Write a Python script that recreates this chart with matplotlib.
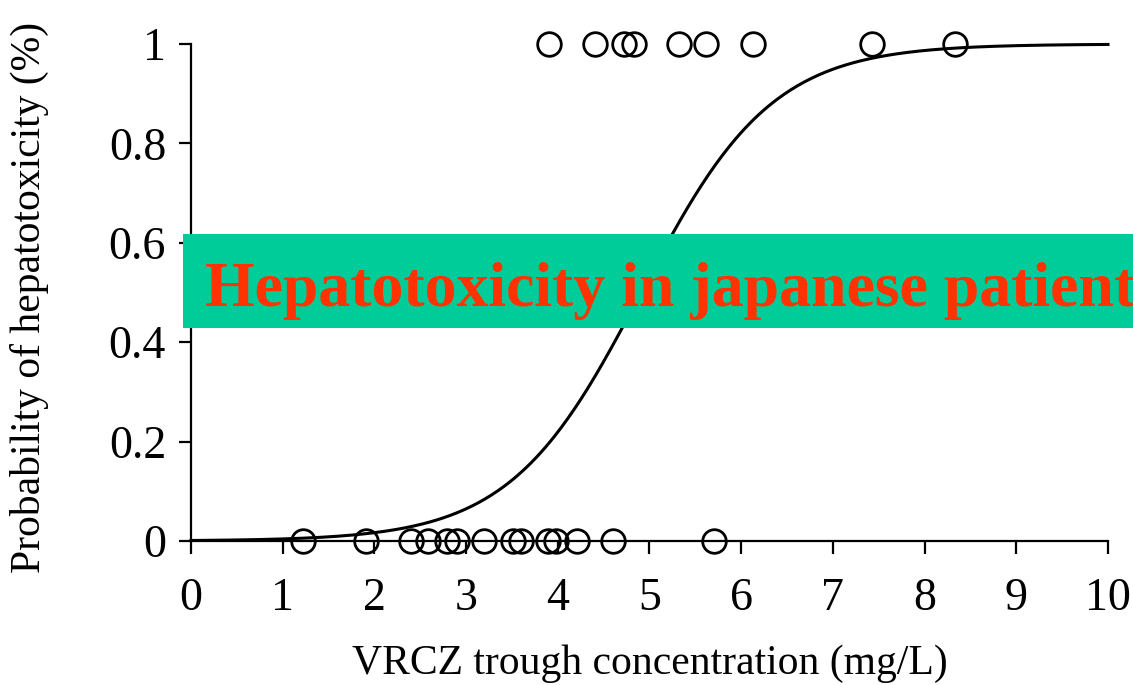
import numpy as np
import matplotlib
matplotlib.use("Agg")
import matplotlib.pyplot as plt
from matplotlib.patches import Rectangle

# observed trough concentrations (mg/L)
conc_no_hepatotox = [1.22, 1.91, 2.40, 2.58, 2.79, 2.90, 3.20, 3.51, 3.60,
                     3.89, 3.98, 4.21, 4.60, 5.70]
conc_hepatotox = [3.90, 4.41, 4.72, 4.83, 5.32, 5.62, 6.13, 7.43, 8.33]

# fitted logistic regression coefficients
b0 = -6.87
b1 = 1.40

xticks = [0, 1, 2, 3, 4, 5, 6, 7, 8, 9, 10]
yticks = [0, 0.2, 0.4, 0.6, 0.8, 1]
ytick_labels = ['0', '0.2', '0.4', '0.6', '0.8', '1']

plt.rcParams['font.family'] = ['Liberation Serif', 'DejaVu Serif']

fig = plt.figure(figsize=(11.33, 6.85), dpi=100)
ax = fig.add_axes([0.1686, 0.2102, 0.8093, 0.7255])

xs = np.linspace(0, 10, 400)
ax.plot(xs, 1 / (1 + np.exp(-(b0 + b1 * xs))), color='black', lw=2.2, clip_on=False)

ax.plot(conc_no_hepatotox, [0] * len(conc_no_hepatotox), 'o', ms=17, mfc='none',
        mec='black', mew=2, clip_on=False)
ax.plot(conc_hepatotox, [1] * len(conc_hepatotox), 'o', ms=17, mfc='none',
        mec='black', mew=2, clip_on=False)

ax.set_xlim(0, 10)
ax.set_ylim(0, 1)
ax.set_xticks(xticks)
ax.set_yticks(yticks)
ax.set_yticklabels(ytick_labels)
ax.spines['top'].set_visible(False)
ax.spines['right'].set_visible(False)
ax.spines['left'].set_linewidth(1.6)
ax.spines['bottom'].set_linewidth(1.6)
ax.tick_params(axis='both', direction='out', length=9, width=1.6, labelsize=33)
ax.tick_params(axis='x', pad=17)
ax.tick_params(axis='y', pad=9)

ax.set_xlabel('VRCZ trough concentration (mg/L)', fontsize=30)
ax.set_ylabel('Probability of hepatotoxicity (%)', fontsize=30)
ax.xaxis.set_label_coords(0.5, -0.208)
ax.yaxis.set_label_coords(-0.155, 0.49)

# banner across the middle of the plot
fig.patches.append(Rectangle((0.1615, 0.521), 0.85, 0.137, transform=fig.transFigure,
                             fc='#00cc99', ec='none', zorder=5))
fig.text(0.181, 0.553, 'Hepatotoxicity in japanese patient', fontsize=46,
         fontweight='bold', color='#ff3300', va='baseline', ha='left', zorder=6)

fig.savefig('out.png', dpi=100)
